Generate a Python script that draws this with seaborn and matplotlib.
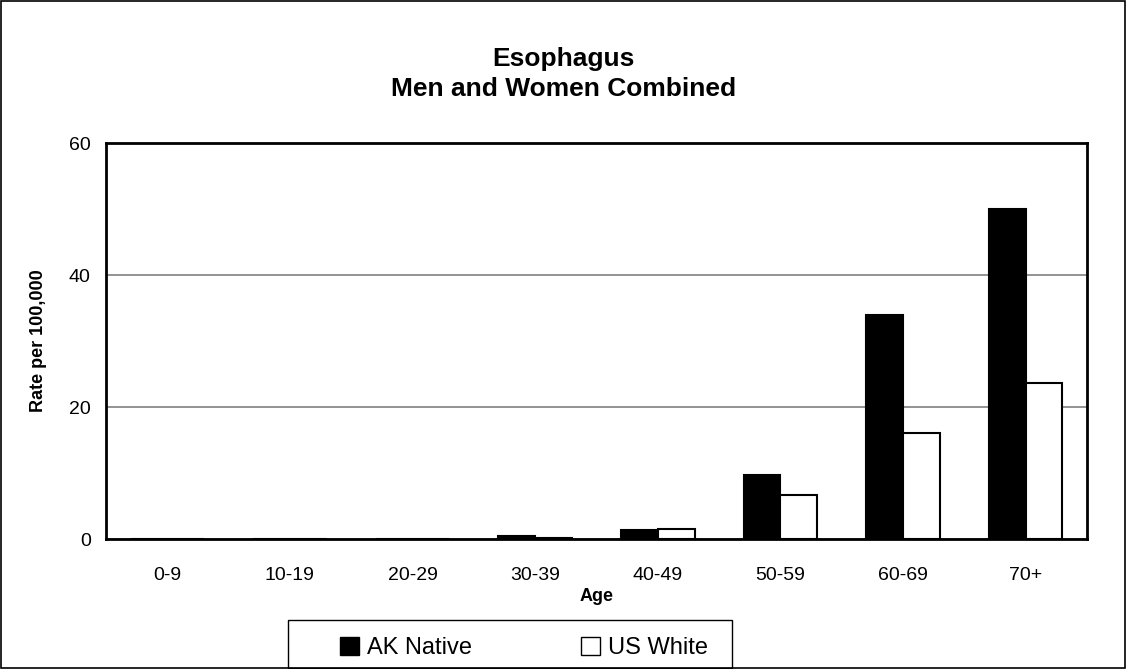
import matplotlib
matplotlib.use("Agg")
from matplotlib import pyplot as plt
from matplotlib.patches import Rectangle
import pandas as pd
import seaborn as sns

# Chart data
age_groups = ["0-9", "10-19", "20-29", "30-39", "40-49", "50-59", "60-69", "70+"]
ak_native = [0.0, 0.0, 0.0, 0.4, 1.3, 9.7, 33.9, 50.0]
us_white = [0.0, 0.0, 0.0, 0.1, 1.5, 6.6, 16.0, 23.6]
series_names = ["AK Native", "US White"]

W, H = 1127, 669


def main():
    sns.set_style("white")
    plt.rcParams["font.family"] = ["Liberation Sans", "DejaVu Sans"]
    for key in ["text.color", "axes.labelcolor", "xtick.color", "ytick.color"]:
        plt.rcParams[key] = "black"

    df = pd.DataFrame({
        "Age": age_groups * 2,
        "Rate": ak_native + us_white,
        "Group": [series_names[0]] * len(age_groups) + [series_names[1]] * len(age_groups),
    })

    fig = plt.figure(figsize=(W / 100, H / 100), dpi=100)
    ax = fig.add_axes([106 / W, 1 - 539 / H, 981 / W, 396 / H])

    sns.barplot(data=df, x="Age", y="Rate", hue="Group", order=age_groups,
                hue_order=series_names, palette=["black", "white"],
                edgecolor="black", linewidth=1.5, width=0.6, ax=ax)

    ax.set_ylim(0, 60)
    ax.set_yticks([0, 20, 40, 60])
    ax.set_xlim(-0.5, len(age_groups) - 0.5)
    ax.yaxis.grid(True, color="#808080", linewidth=1.2)
    ax.set_axisbelow(True)
    for spine in ax.spines.values():
        spine.set_visible(True)
        spine.set_color("black")
        spine.set_linewidth(2)
    ax.tick_params(axis="both", length=0, labelsize=14)
    ax.tick_params(axis="x", pad=20)
    ax.tick_params(axis="y", pad=11)

    ax.set_xlabel("Age", fontsize=13, fontweight="bold", labelpad=3)
    ax.set_ylabel("Rate per 100,000", fontsize=13, fontweight="bold", labelpad=16)

    fig.text(0.5, 1 - 66 / H, "Esophagus", ha="center", va="baseline",
             fontsize=19, fontweight="bold")
    fig.text(0.5, 1 - 96 / H, "Men and Women Combined", ha="center", va="baseline",
             fontsize=19, fontweight="bold")

    handles, labels = ax.get_legend_handles_labels()
    if ax.legend_:
        ax.legend_.remove()
    leg = fig.legend(handles, labels, loc="center",
                     bbox_to_anchor=(524 / W, 1 - 648 / H),
                     ncol=2, fontsize=17, frameon=False,
                     handlelength=0.8, handleheight=0.8,
                     handletextpad=0.35, columnspacing=4.6)
    for h in leg.legend_handles:
        h.set_linewidth(1)

    # Legend frame and outer frame around the whole chart
    fig.patches.append(Rectangle((288 / W, 1 - 668 / H), 444 / W, 48 / H,
                                 transform=fig.transFigure, fill=False,
                                 edgecolor="black", linewidth=1))
    fig.patches.append(Rectangle((0.001, 0.001), 0.997, 0.997, transform=fig.transFigure,
                                 fill=False, edgecolor="black", linewidth=1.2))

    fig.savefig("out.png", dpi=100)


if __name__ == "__main__":
    main()
